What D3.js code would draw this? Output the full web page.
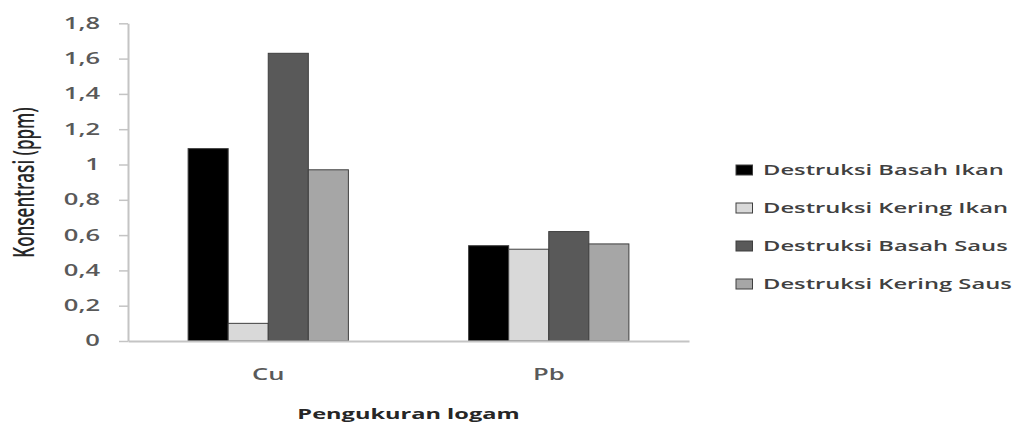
<!DOCTYPE html>
<html>
<head>
<meta charset="utf-8">
<script src="https://cdn.jsdelivr.net/npm/d3@7"></script>
<style>
  html, body { margin: 0; padding: 0; background: #fff; }
  svg { display: block; }
  text { font-family: "Open Sans", sans-serif; }
</style>
</head>
<body>
<svg id="chart" width="1023" height="425"></svg>
<script>
// ---- data ----
const categories = ["Cu", "Pb"];
const seriesNames = ["Destruksi Basah Ikan", "Destruksi Kering Ikan", "Destruksi Basah Saus", "Destruksi Kering Saus"];
const basahIkan  = [1.09, 0.54];
const keringIkan = [0.10, 0.52];
const basahSaus  = [1.63, 0.62];
const keringSaus = [0.97, 0.55];
const yTicks = [0, 0.2, 0.4, 0.6, 0.8, 1, 1.2, 1.4, 1.6, 1.8];
const yTitle = "Konsentrasi (ppm)";
const xTitle = "Pengukuran logam";

const seriesValues = [basahIkan, keringIkan, basahSaus, keringSaus];
const colors = ["#000000", "#d9d9d9", "#595959", "#a6a6a6"];
const SX = 1.65; // horizontal stretch of the original picture

const svg = d3.select("#chart");
const mLeft = 128, mRight = 689, mTop = 23.3, mBottom = 341;

const x0 = d3.scaleBand().domain(categories).range([mLeft, mRight])
  .paddingInner(3/7).paddingOuter(3/14);
const x1 = d3.scaleBand().domain(d3.range(seriesNames.length)).range([0, x0.bandwidth()]);
const y = d3.scaleLinear().domain([0, 1.8]).range([mBottom, mTop]);

// y axis
const yAxis = svg.append("g").attr("transform", `translate(${mLeft},0)`)
  .call(d3.axisLeft(y).tickValues(yTicks).tickSize(9).tickSizeOuter(0)
    .tickFormat(d => String(d).replace(".", ",")));
yAxis.select(".domain").attr("stroke", "#c4c4c4").attr("stroke-width", 2);
yAxis.selectAll(".tick line").attr("stroke", "#c4c4c4").attr("stroke-width", 1.5);
yAxis.selectAll(".tick text")
  .attr("x", 0)
  .attr("transform", `translate(-28,0) scale(${SX},1)`)
  .attr("fill", "#595959")
  .style("font-size", "15.5px")
  .style("font-weight", "600")
  .style("font-family", "'Open Sans', sans-serif");

// bars
const groups = svg.append("g").selectAll("g").data(categories).join("g")
  .attr("transform", d => `translate(${x0(d)},0)`);
groups.selectAll("rect")
  .data((c, ci) => seriesValues.map((vals, si) => ({ si, v: vals[ci] })))
  .join("rect")
  .attr("x", d => x1(d.si))
  .attr("width", x1.bandwidth())
  .attr("y", d => y(d.v))
  .attr("height", d => y(0) - y(d.v))
  .attr("fill", d => colors[d.si])
  .attr("stroke", "#3f3f3f")
  .attr("stroke-width", 1);

// x axis
const xAxis = svg.append("g").attr("transform", `translate(0,${mBottom})`)
  .call(d3.axisBottom(x0).tickSize(0).tickPadding(0));
xAxis.select(".domain").attr("stroke", "#c4c4c4").attr("stroke-width", 2);
xAxis.selectAll(".tick text")
  .attr("y", 0)
  .attr("dy", 0)
  .attr("transform", `translate(0,39) scale(${SX},1)`)
  .attr("fill", "#595959")
  .style("font-size", "15.5px")
  .style("font-weight", "600")
  .style("font-family", "'Open Sans', sans-serif");

// axis titles
svg.append("text")
  .attr("transform", `translate(${(mLeft + mRight) / 2},419) scale(${SX},1)`)
  .attr("text-anchor", "middle")
  .attr("fill", "#262626")
  .style("font-size", "14.3px")
  .style("font-weight", "bold")
  .text(xTitle);

svg.append("text")
  .attr("transform", `translate(34,182.5) scale(${SX},1) rotate(-90)`)
  .attr("text-anchor", "middle")
  .attr("fill", "#262626")
  .style("font-size", "17px")
  .style("font-weight", "600")
  .text(yTitle);

// legend
const legend = svg.append("g").selectAll("g").data(seriesNames).join("g")
  .attr("transform", (d, i) => `translate(736,${170 + i * 38})`);
legend.append("rect")
  .attr("x", 0).attr("y", -5)
  .attr("width", 10 * SX).attr("height", 10)
  .attr("fill", (d, i) => colors[i])
  .attr("stroke", "#3f3f3f").attr("stroke-width", 1);
legend.append("text")
  .attr("transform", `translate(27,0) scale(${SX},1)`)
  .attr("dominant-baseline", "central")
  .attr("fill", "#404040")
  .style("font-size", "14.4px")
  .style("font-weight", "600")
  .text(d => d);
</script>
</body>
</html>
